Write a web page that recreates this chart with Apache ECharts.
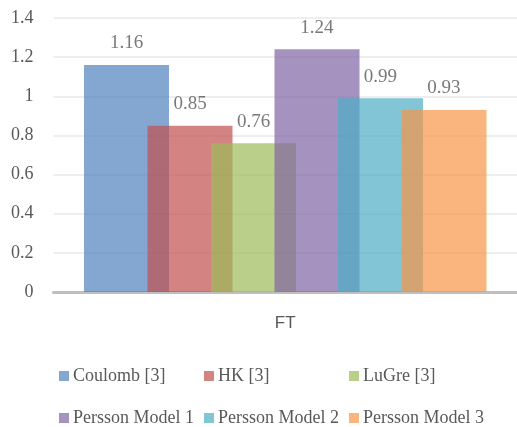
<!DOCTYPE html>
<html>
<head>
<meta charset="utf-8">
<script src="https://cdn.jsdelivr.net/npm/echarts@6/dist/echarts.min.js"></script>
<style>
  html, body { margin: 0; padding: 0; background: #ffffff; }
  #chart { width: 517px; height: 427px; }
</style>
</head>
<body>
<div id="chart"></div>
<script>
// Friction-model comparison for the FT case
const categories = ['FT'];
const seriesNames = ['Coulomb [3]', 'HK [3]', 'LuGre [3]', 'Persson Model 1', 'Persson Model 2', 'Persson Model 3'];
const seriesValues = [1.16, 0.85, 0.76, 1.24, 0.99, 0.93];
const yTicks = [0, 0.2, 0.4, 0.6, 0.8, 1, 1.2, 1.4];

const colors = ['#4F81BD', '#C0504D', '#9BBB59', '#8064A2', '#4BACC6', '#F79646'];
const serif = 'Liberation Serif, Times New Roman, serif';

const chart = echarts.init(document.getElementById('chart'), null, { renderer: 'canvas' });

const series = seriesNames.map((name, i) => ({
  name: name,
  type: 'bar',
  data: [seriesValues[i]],
  barWidth: 85,
  barGap: '-25.3%',
  itemStyle: { color: colors[i], opacity: 0.7 },
  label: {
    show: true,
    position: 'top',
    distance: 12,
    color: '#404040',
    fontFamily: serif,
    fontSize: 19
  }
}));

// One legend block per entry so the entries sit in fixed columns
const legendPos = [
  [59, 367], [204, 367], [349, 367],
  [59, 409], [204, 409], [349, 409]
];
const legends = seriesNames.map((name, i) => ({
  data: [name],
  left: legendPos[i][0],
  top: legendPos[i][1],
  padding: 0,
  icon: 'rect',
  itemWidth: 10,
  itemHeight: 10,
  itemGap: 0,
  textStyle: { color: '#595959', fontFamily: serif, fontSize: 18, padding: [0, 0, 0, -1] },
  selectedMode: false
}));

chart.setOption({
  animation: false,
  color: colors,
  grid: { left: 53.5, top: 18, width: 468, bottom: 135 },
  legend: legends,
  xAxis: {
    type: 'category',
    data: categories,
    axisTick: { show: false },
    axisLine: { lineStyle: { color: '#bfbfbf', width: 3 } },
    axisLabel: {
      margin: 23,
      color: '#595959',
      fontFamily: 'Liberation Sans Narrow, Arial Narrow, Liberation Sans, sans-serif',
      fontSize: 17
    }
  },
  yAxis: {
    type: 'value',
    min: yTicks[0],
    max: yTicks[yTicks.length - 1],
    interval: yTicks[1] - yTicks[0],
    axisLine: { show: false },
    axisTick: { show: false },
    splitLine: { lineStyle: { color: '#eeeeee', width: 2 } },
    axisLabel: {
      margin: 20,
      color: '#595959',
      fontFamily: serif,
      fontSize: 18
    }
  },
  series: series
});
</script>
</body>
</html>
